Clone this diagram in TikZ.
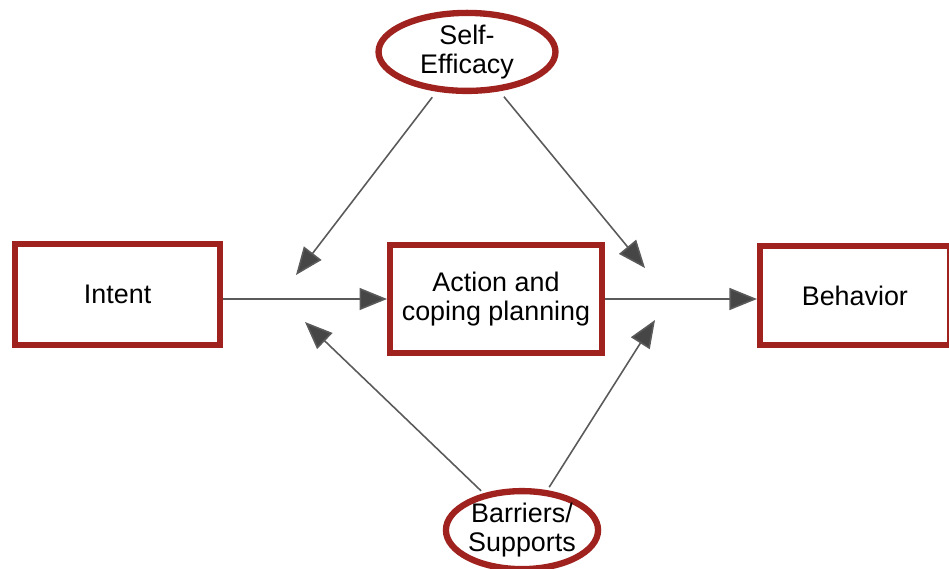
\documentclass[tikz,border=0pt]{standalone}
\usepackage{fontspec}
\setmainfont{Liberation Sans}
\usetikzlibrary{shapes.geometric, arrows.meta, positioning, shadows}

\definecolor{boxred}{RGB}{160,34,30}
\definecolor{linegray}{RGB}{90,90,90}
\definecolor{tipgray}{RGB}{70,70,70}

\begin{document}
\begin{tikzpicture}[
    x=0.02cm, y=-0.02cm,
    mainbox/.style={rectangle, draw=boxred, line width=3.4pt, fill=white, align=center,
        font=\fontsize{15.3}{16.8}\selectfont,
        drop shadow={shadow xshift=0.8pt, shadow yshift=-1.2pt, opacity=0.3}},
    factor/.style={ellipse, draw=boxred, line width=3.6pt, fill=white, align=center,
        inner sep=0pt, font=\fontsize{15.3}{16.8}\selectfont,
        drop shadow={shadow xshift=0.8pt, shadow yshift=-1.2pt, opacity=0.3}},
    arrow/.style={-{Triangle[length=0.55cm, width=0.44cm, fill=tipgray]}, line width=0.9pt, draw=linegray},
]
\useasboundingbox (0,0) rectangle (949,568);

% ============ Main chain ============
\node[mainbox, minimum width=4.24cm, minimum height=2.16cm] (action) at (496,299) {Action and\\coping planning};
\node[mainbox, minimum width=4.1cm, minimum height=2.02cm, left=3.28cm of action, yshift=0.09cm] (intent) {Intent};
\node[mainbox, minimum width=3.8cm, minimum height=1.98cm, right=3.04cm of action, yshift=0.07cm] (behavior) {Behavior};

% ============ Moderators ============
\node[factor, minimum width=3.54cm, minimum height=1.56cm, above=2.96cm of action, xshift=-0.58cm] (selfeff) {Self-\\Efficacy};
\node[factor, minimum width=2.98cm, minimum height=1.56cm, below=2.64cm of action, xshift=0.52cm] (barriers) {Barriers/\\Supports};

% free ends of the moderator arrows
\coordinate (effleft) at (296,275);
\coordinate (effright) at (645,268);
\coordinate (barleft) at (305,322);
\coordinate (barright) at (655,320);

% Chain arrows
\draw[arrow] (intent.east |- action.west) -- (action.west);
\draw[arrow] (action.east) -- (action.east -| behavior.west);

% Moderator arrows
\draw[arrow, shorten <=4pt] (selfeff) -- (effleft);
\draw[arrow, shorten <=4pt] (selfeff) -- (effright);
\draw[arrow, shorten <=2pt] (barriers) -- (barleft);
\draw[arrow, shorten <=2pt] (barriers) -- (barright);

\end{tikzpicture}
\end{document}
